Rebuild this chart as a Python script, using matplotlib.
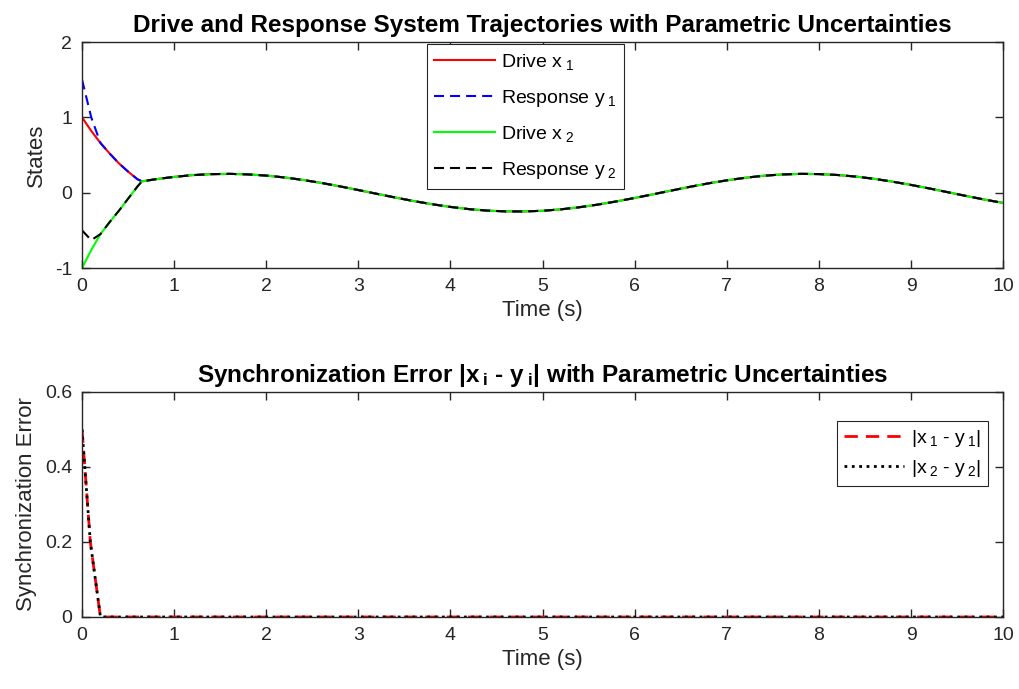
import matplotlib
matplotlib.use("Agg")
import matplotlib.pyplot as plt

plt.rcParams['font.family'] = ['Liberation Sans', 'DejaVu Sans']
plt.rcParams['mathtext.fontset'] = 'custom'
plt.rcParams['mathtext.rm'] = 'Liberation Sans'
plt.rcParams['mathtext.bf'] = 'Liberation Sans:bold'
plt.rcParams['mathtext.default'] = 'regular'
plt.rcParams['axes.unicode_minus'] = False

# time axis (s): transient part then steady oscillation
t_trans = [0, 0.1, 0.2, 0.3, 0.4, 0.5, 0.6, 0.65]
t_steady = [0.8, 1.0, 1.2, 1.4, 1.6, 1.8, 2.0, 2.2, 2.4, 2.6, 2.8, 3.0,
            3.2, 3.4, 3.6, 3.8, 4.0, 4.2, 4.4, 4.6, 4.8, 5.0, 5.2, 5.4,
            5.6, 5.8, 6.0, 6.2, 6.4, 6.6, 6.8, 7.0, 7.2, 7.4, 7.6, 7.8,
            8.0, 8.2, 8.4, 8.6, 8.8, 9.0, 9.2, 9.4, 9.6, 9.8, 10.0]
steady = [0.179, 0.210, 0.233, 0.246, 0.250, 0.243, 0.227, 0.202, 0.169,
          0.129, 0.084, 0.035, -0.015, -0.064, -0.111, -0.153, -0.189,
          -0.218, -0.238, -0.248, -0.249, -0.240, -0.221, -0.193, -0.158,
          -0.116, -0.070, -0.021, 0.029, 0.078, 0.124, 0.164, 0.198, 0.225,
          0.242, 0.250, 0.247, 0.235, 0.214, 0.184, 0.146, 0.103, 0.056,
          0.006, -0.044, -0.092, -0.136]

x1_trans = [1.0, 0.82, 0.66, 0.52, 0.39, 0.28, 0.18, 0.15]
y1_trans = [1.5, 1.0, 0.66, 0.52, 0.39, 0.28, 0.18, 0.15]
x2_trans = [-1.0, -0.76, -0.55, -0.39, -0.24, -0.08, 0.08, 0.15]
y2_trans = [-0.5, -0.63, -0.55, -0.39, -0.24, -0.08, 0.08, 0.15]

time = t_trans + t_steady
x1 = x1_trans + steady
y1 = y1_trans + steady
x2 = x2_trans + steady
y2 = y2_trans + steady

# synchronization error
t_err = [0, 0.03, 0.09, 0.2, 1, 2, 3, 4, 5, 6, 7, 8, 9, 10]
err1 = [0.5, 0.4, 0.2, 0.0, 0, 0, 0, 0, 0, 0, 0, 0, 0, 0]
err2 = [0.5, 0.4, 0.2, 0.0, 0, 0, 0, 0, 0, 0, 0, 0, 0, 0]

axc = '#262626'
fig = plt.figure(figsize=(10.19, 6.89), dpi=100)
ax1 = fig.add_axes([0.0805, 0.611, 0.904, 0.328])
ax2 = fig.add_axes([0.0805, 0.1045, 0.904, 0.3266])

dash = (4.8, 2.9)
ax1.plot(time, x1, color='red', lw=1.5, label=r'Drive x$\,_1$')
ax1.plot(time, y1, color='blue', lw=1.5, ls='--', dashes=dash, label=r'Response y$\,_1$')
ax1.plot(time, x2, color=(0, 1, 0), lw=1.5, label=r'Drive x$\,_2$')
ax1.plot(time, y2, color='black', lw=1.5, ls='--', dashes=dash, label=r'Response y$\,_2$')
ax1.set_ylim(-1, 2)
ax1.set_yticks([-1, 0, 1, 2])
ax1.set_ylabel('States', fontsize=16, color=axc, labelpad=6)
ax1.set_title('Drive and Response System Trajectories with Parametric Uncertainties',
              fontsize=17.5, fontweight='bold', pad=7)
leg1 = ax1.legend(loc='upper left', bbox_to_anchor=(0.374, 0.99), fontsize=14,
                  fancybox=False, framealpha=1, edgecolor=axc, handlelength=3.1,
                  handletextpad=0.35, labelspacing=0.8, borderpad=0.4,
                  borderaxespad=0)
leg1.get_frame().set_linewidth(0.8)

ax2.plot(t_err, err1, color='red', lw=2, ls='--', dashes=dash, label=r'|x$\,_1$ - y$\,_1$|')
ax2.plot(t_err, err2, color='black', lw=2, ls=':', label=r'|x$\,_2$ - y$\,_2$|')
ax2.set_ylim(0, 0.6)
ax2.set_yticks([0, 0.2, 0.4, 0.6])
ax2.set_yticklabels(['0', '0.2', '0.4', '0.6'])
ax2.set_ylabel('Synchronization Error', fontsize=16, color=axc, labelpad=6)
ax2.set_title(r'Synchronization Error |x$\,_\mathbf{i}$ - y$\,_\mathbf{i}$| with Parametric Uncertainties',
              fontsize=17.5, fontweight='bold', pad=7)
leg2 = ax2.legend(loc='upper right', bbox_to_anchor=(0.983, 0.872), fontsize=14,
                  fancybox=False, framealpha=1, edgecolor=axc, handlelength=3.1,
                  handletextpad=0.35, labelspacing=0.5, borderpad=0.35,
                  borderaxespad=0)
leg2.get_frame().set_linewidth(0.8)

for ax in (ax1, ax2):
    ax.set_xlim(0, 10)
    ax.set_xticks(range(0, 11))
    ax.set_xlabel('Time (s)', fontsize=16, color=axc, labelpad=4)
    ax.tick_params(direction='in', top=True, right=True, length=6, width=1,
                   labelsize=14, colors=axc, pad=7)
    for s in ax.spines.values():
        s.set_color(axc)
        s.set_linewidth(1)

fig.savefig('out.png', dpi=100)
